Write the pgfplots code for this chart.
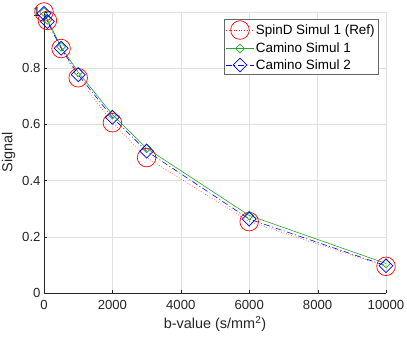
\documentclass[border=0pt]{standalone}
\usepackage{fontspec}
\setmainfont{Liberation Sans}
\setsansfont{Liberation Sans}
\usepackage{pgfplots}
\pgfplotsset{compat=1.18}
\definecolor{axgray}{rgb}{0.15,0.15,0.15}
\definecolor{mgreen}{rgb}{0.13,0.66,0.13}

\begin{document}
\begin{tikzpicture}[x=1bp,y=1bp]
\begin{axis}[
    scale only axis,
    width=342bp, height=281bp,
    xmin=0, xmax=10000,
    ymin=0, ymax=1,
    xtick={0,2000,4000,6000,8000,10000},
    ytick={0,0.2,0.4,0.6,0.8,1},
    scaled x ticks=false,
    /pgf/number format/assume math mode=true,
    x tick label style={/pgf/number format/1000 sep={}, yshift=-4bp},
    tick label style={font=\fontsize{13.2}{15}\selectfont, text=axgray},
    label style={font=\fontsize{14.5}{16}\selectfont, text=axgray},
    xlabel={b-value (s/mm\textsuperscript{2})},
    ylabel={Signal},
    axis x line*=bottom, axis y line*=left,
    axis line style={draw=axgray, -},
    tick style={draw=axgray},
    tick align=inside,
    major tick length=3bp,
    grid=major,
    grid style={draw=black!12, line width=0.4pt},
    clip=false,
    legend style={at={(rel axis cs:0.9766,0.975)}, anchor=north east,
        draw=black!60, fill=white, font=\fontsize{13.5}{15}\selectfont,
        text=black, inner sep=1.5bp, row sep=2bp,
        nodes={inner sep=1.6bp}},
    legend cell align=left,
    legend image code/.code={
        \draw[mark repeat=2, mark phase=2, #1]
            plot coordinates {(0bp,0bp) (14bp,0bp) (28bp,0bp)};},
]
\addplot[color=red!85, dotted, line width=0.6pt, mark=o,
    mark size=9.3bp, mark options={solid, color=red, line width=0.7pt}]
    coordinates {(0,1.0)(100,0.970)(500,0.870)(1000,0.766)(2000,0.606)(3000,0.482)(6000,0.254)(10000,0.095)};
\addlegendentry{SpinD Simul 1 (Ref)}
\addplot[color=mgreen, solid, line width=0.6pt, mark=square,
    mark size=3.1bp, mark options={solid, rotate=45, line width=0.7pt}]
    coordinates {(0,1.0)(100,0.972)(500,0.876)(1000,0.786)(2000,0.635)(3000,0.515)(6000,0.276)(10000,0.105)};
\addlegendentry{Camino Simul 1}
\addplot[color=blue, dash pattern=on 6bp off 2.5bp on 1bp off 2.5bp, line width=0.6pt, mark=square,
    mark size=4.9bp, mark options={solid, rotate=45, line width=0.7pt}]
    coordinates {(0,0.995)(100,0.966)(500,0.871)(1000,0.777)(2000,0.625)(3000,0.505)(6000,0.263)(10000,0.097)};
\addlegendentry{Camino Simul 2}
\end{axis}
\pgfresetboundingbox
\path[use as bounding box] (current axis.south west) ++(-44bp,-49bp) rectangle ++(407bp,342bp);
\end{tikzpicture}
\end{document}
